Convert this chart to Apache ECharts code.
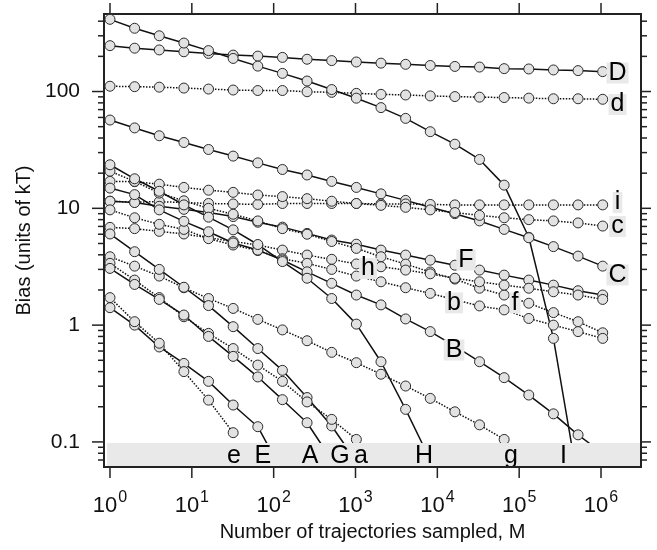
<!doctype html>
<html>
<head>
<meta charset="utf-8">
<title>Bias vs number of trajectories</title>
<script src="https://cdn.jsdelivr.net/npm/echarts@6.0.0/dist/echarts.min.js"></script>
<style>
  html, body { margin: 0; padding: 0; background: #fff; }
  #main { width: 657px; height: 550px; }
</style>
</head>
<body>
<div id="main"></div>
<script>
// number of trajectories sampled (x of every point)
var M = [1, 2, 4, 8, 16, 32, 64, 128, 256, 512, 1024, 2048, 4096, 8192,
         16384, 32768, 65536, 131072, 262144, 524288, 1048576];

// bias values, one per M (solid = capitals, dotted = lower case)
var biasI = [415, 348, 300, 260, 224, 192, 165, 143, 123, 104, 87.7, 72.8, 58.9, 45.3, 35.4, 26.2, 15.8, 5.65, 0.77, 0.045];
var biasD = [247, 235, 227, 219, 212, 205, 201, 196, 189, 184, 179, 175, 171, 167, 164, 162, 157, 156, 153, 151, 148];
var biasd = [111, 110, 109, 107, 105, 103, 102, 102, 99.6, 98.4, 96.5, 94.6, 93.4, 91.7, 90.5, 89.5, 88.8, 87.8, 86.7, 86.7, 85.8];
var biasC = [57, 48.8, 41.8, 36.6, 31.9, 28.0, 24.5, 21.5, 19.3, 17.0, 15.1, 13.3, 11.7, 10.2, 9.0, 7.8, 6.6, 5.6, 4.7, 3.9, 3.2];
var biasi = [11.5, 11.3, 11.4, 11.2, 11.0, 10.9, 10.8, 11.0, 11.0, 11.0, 11.0, 10.9, 10.9, 10.8, 10.7, 10.7, 10.7, 10.7, 10.7, 10.7, 10.7];
var biasc = [17.0, 16.9, 16.1, 15.1, 14.3, 13.7, 13.0, 12.6, 12.1, 11.5, 11.0, 10.6, 10.2, 9.7, 9.2, 8.7, 8.3, 8.0, 7.8, 7.5, 7.05];
var biasF = [11.5, 11.2, 10.4, 9.8, 9.2, 8.5, 7.6, 6.9, 6.1, 5.35, 4.93, 4.39, 3.98, 3.6, 3.26, 2.96, 2.68, 2.43, 2.2, 1.97, 1.81];
var biasf = [20.8, 17.0, 13.5, 11.6, 10.0, 8.9, 7.8, 6.7, 6.0, 5.2, 4.54, 3.85, 3.33, 2.85, 2.48, 2.07, 1.81, 1.54, 1.28, 1.07, 0.86];
var biash = [6.87, 6.7, 6.35, 6.03, 5.6, 5.2, 4.85, 4.39, 3.98, 3.66, 3.34, 3.16, 2.96, 2.75, 2.52, 2.35, 2.2, 2.07, 1.93, 1.81, 1.66];
var biasb = [9.7, 8.3, 7.3, 6.6, 5.5, 4.85, 4.35, 3.7, 3.38, 3.0, 2.63, 2.35, 2.09, 1.87, 1.65, 1.46, 1.35, 1.14, 1.0, 0.88, 0.77];
var biasB = [14.9, 13.1, 9.7, 7.74, 6.3, 5.05, 4.39, 3.61, 2.86, 2.28, 1.81, 1.49, 1.13, 0.88, 0.66, 0.486, 0.355, 0.252, 0.174, 0.115, 0.08];
var biasH = [23.6, 17.9, 14.0, 10.7, 8.4, 6.54, 4.9, 3.5, 2.52, 1.69, 1.02, 0.486, 0.19, 0.07];
var biasg = [3.85, 3.2, 2.63, 2.09, 1.69, 1.39, 1.12, 0.91, 0.735, 0.585, 0.477, 0.38, 0.301, 0.236, 0.181, 0.14, 0.105];
var biasG = [6.03, 4.25, 3.0, 2.11, 1.47, 0.97, 0.63, 0.41, 0.24, 0.137, 0.068];
var biasa = [3.38, 2.43, 1.72, 1.18, 0.85, 0.63, 0.455, 0.33, 0.22, 0.156, 0.105];
var biasA = [3.06, 2.23, 1.66, 1.22, 0.80, 0.54, 0.36, 0.23, 0.146, 0.07];
var biasE = [1.41, 1.0, 0.65, 0.47, 0.33, 0.207, 0.135, 0.055];
var biase = [1.72, 1.07, 0.70, 0.40, 0.228, 0.12];

var curves = [
  [biasD, 'solid'], [biasd, 'dotted'], [biasI, 'solid'], [biasC, 'solid'],
  [biasi, 'dotted'], [biasc, 'dotted'], [biasF, 'solid'], [biasf, 'dotted'],
  [biash, 'dotted'], [biasb, 'dotted'], [biasB, 'solid'], [biasH, 'solid'],
  [biasg, 'dotted'], [biasG, 'solid'], [biasa, 'dotted'], [biasA, 'solid'],
  [biasE, 'solid'], [biase, 'dotted']
];

// curve labels: text and where they sit (M, bias)
var labelText = ['D', 'd', 'i', 'c', 'C', 'F', 'h', 'b', 'f', 'B', 'e', 'E', 'A', 'G', 'a', 'H', 'g', 'I'];
var labelM    = [1.59e6, 1.59e6, 1.59e6, 1.59e6, 1.59e6, 22400, 1422, 16000, 88900, 16000,
                 32.7, 74, 278, 647, 1167, 6870, 79400, 348000];
var labelBias = [144, 77.4, 11.2, 6.99, 2.69, 3.61, 3.05, 1.55, 1.55, 0.612,
                 0.0757, 0.0757, 0.0757, 0.0757, 0.0757, 0.0757, 0.0757, 0.0757];

// axes
var X_MIN = 0.845, X_MAX = 3.08e6;
var Y_MIN = 0.061, Y_MAX = 461;
var BAND_TOP = 0.098;
var xMajor = [1, 10, 100, 1000, 10000, 100000, 1000000];
var yMajor = [0.1, 1, 10, 100];
var yLabels = {'-1': '0.1', '0': '1', '1': '10', '2': '100'};

var yMinor = [];
[0.01, 0.1, 1, 10, 100].forEach(function (d) {
  for (var m = 2; m <= 9; m++) {
    var v = d * m;
    if (v > Y_MIN && v < Y_MAX) yMinor.push(v);
  }
});

function expOf(v) {
  var e = Math.log(v) / Math.LN10;
  var r = Math.round(e);
  return Math.abs(e - r) < 1e-6 ? r : null;
}

// tick marks: [x, y, side(0 bottom,1 top,2 left,3 right), length]
var ticks = [];
xMajor.forEach(function (v) {
  ticks.push([v, Y_MIN, 0, 11]);
  ticks.push([v, Y_MAX, 1, 11]);
});
yMajor.forEach(function (v) {
  ticks.push([X_MIN, v, 2, 12]);
  ticks.push([X_MAX, v, 3, 10]);
});
yMinor.forEach(function (v) {
  ticks.push([X_MIN, v, 2, 6]);
  ticks.push([X_MAX, v, 3, 6]);
});

var series = curves.map(function (c) {
  return {
    type: 'line',
    data: c[0].map(function (v, k) { return [M[k], v]; }),
    symbol: 'circle',
    symbolSize: 10,
    showSymbol: true,
    showAllSymbol: true,
    silent: true,
    z: 2,
    lineStyle: {
      color: '#111',
      width: 1.5,
      type: c[1] === 'solid' ? 'solid' : [1.5, 1.5]
    },
    itemStyle: { color: '#e2e2e2', borderColor: '#2a2a2a', borderWidth: 1 }
  };
});

series.push({
  type: 'custom',
  silent: true,
  z: 4,
  data: ticks,
  renderItem: function (params, api) {
    var side = api.value(2), len = api.value(3);
    var p = api.coord([api.value(0), api.value(1)]);
    var dx = 0, dy = 0;
    if (side === 0) dy = len;
    else if (side === 1) dy = -len;
    else if (side === 2) dx = -len;
    else dx = len;
    return {
      type: 'line',
      shape: { x1: p[0], y1: p[1], x2: p[0] + dx, y2: p[1] + dy },
      style: { stroke: '#222', lineWidth: 1.5 }
    };
  }
});

// grey band along the bottom of the plot
series.push({
  type: 'custom',
  silent: true,
  z: 5,
  data: [[X_MIN, BAND_TOP]],
  renderItem: function (params, api) {
    var cs = params.coordSys;
    var top = api.coord([X_MIN, BAND_TOP])[1];
    var bottom = cs.y + cs.height;
    return {
      type: 'rect',
      shape: { x: cs.x + 3, y: top, width: cs.width - 4, height: bottom - top },
      style: { fill: '#e9e9e9' }
    };
  }
});

// curve letters on small grey patches
series.push({
  type: 'custom',
  silent: true,
  z: 6,
  data: labelText.map(function (t, i) { return [labelM[i], labelBias[i]]; }),
  renderItem: function (params, api) {
    var p = api.coord([api.value(0), api.value(1)]);
    return {
      type: 'text',
      style: {
        text: labelText[params.dataIndex],
        x: p[0],
        y: p[1],
        align: 'center',
        verticalAlign: 'middle',
        fontSize: 25,
        lineHeight: 21,
        fontFamily: 'Liberation Sans',
        fill: '#000',
        backgroundColor: '#e9e9e9',
        padding: [0, 2, 0, 2]
      }
    };
  }
});

// frame's bottom edge drawn again on top of the band and letters
series.push({
  type: 'custom',
  silent: true,
  z: 7,
  data: [[X_MIN, Y_MIN]],
  renderItem: function (params, api) {
    var cs = params.coordSys;
    var bottom = cs.y + cs.height;
    return {
      type: 'line',
      shape: { x1: cs.x - 1, y1: bottom, x2: cs.x + cs.width + 1, y2: bottom },
      style: { stroke: '#222', lineWidth: 2 }
    };
  }
});

var chart = echarts.init(document.getElementById('main'));
chart.setOption({
  animation: false,
  textStyle: { fontFamily: 'Liberation Sans' },
  grid: {
    left: 104, right: 16, top: 14, bottom: 83,
    show: true, borderColor: '#222', borderWidth: 2, backgroundColor: 'transparent'
  },
  xAxis: {
    type: 'log',
    logBase: 10,
    min: X_MIN,
    max: X_MAX,
    name: 'Number of trajectories sampled, M',
    nameLocation: 'middle',
    nameGap: 55,
    nameTextStyle: { fontSize: 20, color: '#111', fontFamily: 'Liberation Sans' },
    axisLine: { show: false },
    axisTick: { show: false },
    splitLine: { show: false },
    axisLabel: {
      margin: 23,
      color: '#111',
      showMinLabel: false,
      showMaxLabel: false,
      formatter: function (v) {
        var e = expOf(v);
        return e === null ? '' : '{b|10}{s|' + e + '}';
      },
      rich: {
        b: { fontSize: 22, fontFamily: 'Liberation Sans', color: '#111', verticalAlign: 'bottom' },
        s: { fontSize: 16, fontFamily: 'Liberation Sans', color: '#111', verticalAlign: 'bottom', padding: [0, 0, 11, 1] }
      }
    }
  },
  yAxis: {
    type: 'log',
    logBase: 10,
    min: Y_MIN,
    max: Y_MAX,
    name: 'Bias (units of kT)',
    nameLocation: 'middle',
    nameGap: 58,
    nameTextStyle: { fontSize: 20, color: '#111', fontFamily: 'Liberation Sans' },
    axisLine: { show: false },
    axisTick: { show: false },
    splitLine: { show: false },
    axisLabel: {
      margin: 24,
      fontSize: 21,
      color: '#111',
      showMinLabel: false,
      showMaxLabel: false,
      formatter: function (v) {
        var e = expOf(v);
        return e === null ? '' : yLabels[String(e)];
      }
    }
  },
  series: series
});
</script>
</body>
</html>
